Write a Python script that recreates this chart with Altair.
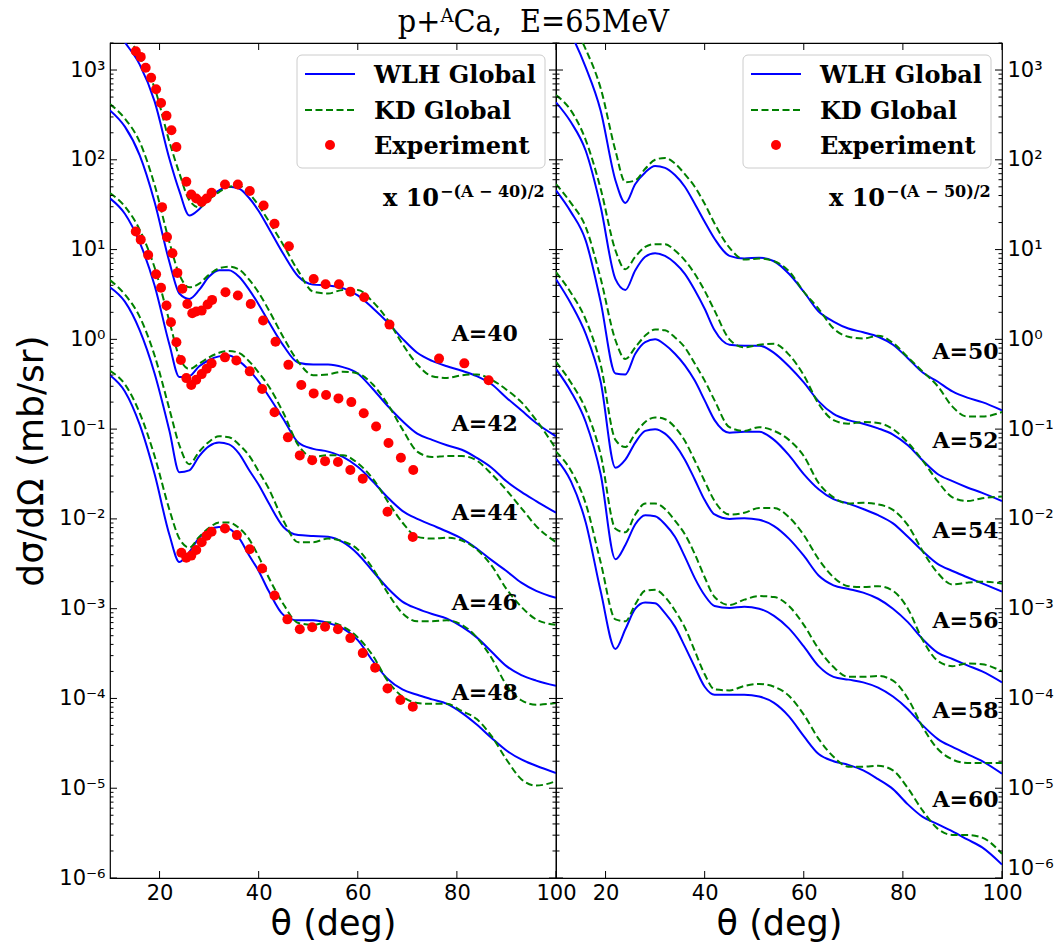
import math
import altair as alt
import pandas as pd

# ---------------- data ----------------
THETA = [10, 13, 16, 19, 22, 24, 26, 28, 30, 32, 34, 36, 38, 40, 42, 45, 48, 51, 54,
         57, 60, 63, 66, 69, 72, 75, 78, 81, 84, 87, 90, 93, 96, 100]

# left panel (scaled by 10^-(A-40)/2)
WLH_40 = [3.55e3, 2.04e3, 1.15e3, 447, 102, 44.7, 24.0, 28.2, 37.2, 45.7, 50.1, 47.9, 38.0, 26.9, 17.4,
          8.91, 5.01, 4.07, 3.98, 3.72, 3.09, 2.24, 1.55, 1.02, 0.708, 0.575, 0.501, 0.447, 0.389, 0.316,
          0.224, 0.162, 0.117, 0.0832]
KD_40 = [4.47e3, 2.63e3, 1.41e3, 631, 158, 70.8, 35.5, 29.5, 36.3, 43.7, 50.1, 51.3, 42.7, 30.9, 20.9,
         11.2, 5.75, 3.39, 3.24, 3.55, 3.55, 2.63, 1.66, 0.891, 0.525, 0.389, 0.372, 0.398, 0.407, 0.355,
         0.275, 0.200, 0.126, 0.0603]
WLH_42 = [355, 234, 112, 33.9, 7.24, 3.24, 2.82, 3.55, 5.01, 5.89, 5.89, 5.01, 3.63, 2.45, 1.58,
          0.851, 0.550, 0.525, 0.525, 0.490, 0.417, 0.282, 0.182, 0.123, 0.0891, 0.0759, 0.0661, 0.0589,
          0.0479, 0.0372, 0.0263, 0.0200, 0.0158, 0.0117]
KD_42 = [417, 288, 158, 52.5, 12.0, 5.25, 3.80, 4.17, 5.25, 6.17, 6.46, 6.03, 4.68, 3.31, 2.14,
         1.05, 0.562, 0.398, 0.407, 0.437, 0.417, 0.316, 0.191, 0.100, 0.0562, 0.0490, 0.0501, 0.0501,
         0.0447, 0.0316, 0.0209, 0.0132, 0.00832, 0.00550]
WLH_44 = [37.2, 25.1, 12.0, 3.98, 0.871, 0.380, 0.389, 0.501, 0.589, 0.646, 0.661, 0.575, 0.457, 0.339,
          0.234, 0.129, 0.0708, 0.0603, 0.0562, 0.0490, 0.0380, 0.0263, 0.0174, 0.0123, 0.0100, 0.00851,
          0.00724, 0.00603, 0.00468, 0.00347, 0.00263, 0.00195, 0.00158, 0.00132]
KD_44 = [42.7, 30.2, 16.6, 6.31, 1.58, 0.631, 0.468, 0.537, 0.631, 0.708, 0.741, 0.708, 0.575, 0.427,
         0.302, 0.151, 0.0661, 0.0490, 0.0513, 0.0513, 0.0417, 0.0282, 0.0158, 0.00912, 0.00631, 0.00603,
         0.00617, 0.00575, 0.00457, 0.00302, 0.00166, 0.00105, 7.59e-4, 6.61e-4]
WLH_46 = [3.80, 2.63, 1.26, 0.417, 0.0955, 0.0331, 0.0347, 0.0501, 0.0646, 0.0708, 0.0676, 0.0537,
          0.0355, 0.0240, 0.0151, 0.00813, 0.00661, 0.00646, 0.00631, 0.00550, 0.00407, 0.00263, 0.00170,
          0.00120, 0.00100, 8.71e-4, 7.76e-4, 6.31e-4, 4.79e-4, 3.31e-4, 2.29e-4, 1.82e-4, 1.58e-4, 1.38e-4]
KD_46 = [4.57, 3.16, 1.78, 0.661, 0.166, 0.0661, 0.0407, 0.0562, 0.0724, 0.0832, 0.0813, 0.0676, 0.0513,
         0.0339, 0.0219, 0.00955, 0.00550, 0.00550, 0.00603, 0.00562, 0.00457, 0.00282, 0.00151, 8.91e-4,
         7.24e-4, 7.24e-4, 7.41e-4, 6.61e-4, 4.79e-4, 2.82e-4, 1.41e-4, 9.55e-5, 8.51e-5, 8.91e-5]
WLH_48 = [0.398, 0.263, 0.112, 0.0316, 0.00661, 0.00331, 0.00427, 0.00617, 0.00759, 0.00813, 0.00776,
          0.00617, 0.00398, 0.00263, 0.00158, 8.51e-4, 7.41e-4, 7.41e-4, 6.92e-4, 6.03e-4, 4.47e-4,
          2.63e-4, 1.66e-4, 1.26e-4, 1.10e-4, 9.77e-5, 8.71e-5, 6.92e-5, 5.13e-5, 3.63e-5, 2.63e-5,
          2.09e-5, 1.78e-5, 1.48e-5]
KD_48 = [0.447, 0.316, 0.151, 0.0501, 0.0126, 0.00603, 0.00479, 0.00631, 0.00794, 0.00912, 0.00912,
         0.00794, 0.00603, 0.00380, 0.00224, 0.00112, 6.92e-4, 6.61e-4, 7.08e-4, 6.31e-4, 4.79e-4,
         3.02e-4, 1.58e-4, 1.05e-4, 8.91e-5, 8.71e-5, 8.71e-5, 7.24e-5, 5.89e-5, 3.80e-5, 2.09e-5,
         1.26e-5, 1.07e-5, 1.20e-5]

# right panel (scaled by 10^-(A-50)/2)
WLH_50 = [4.47e3, 2.51e3, 1.07e3, 355, 58.9, 33.1, 53.7, 72.4, 85.1, 81.3, 67.6, 50.1, 32.4, 20.4, 13.2,
          8.51, 7.94, 8.13, 7.41, 5.37, 3.39, 2.04, 1.58, 1.32, 1.20, 1.07, 0.871, 0.617, 0.427, 0.339,
          0.263, 0.224, 0.200, 0.162]
KD_50 = [6.31e3, 3.55e3, 1.70e3, 631, 126, 56.2, 58.9, 79.4, 100, 105, 91.2, 69.2, 50.1, 32.4, 19.5,
         10.5, 7.76, 7.94, 7.41, 5.75, 3.39, 2.19, 1.32, 1.07, 1.02, 1.10, 0.912, 0.631, 0.437, 0.302,
         0.178, 0.138, 0.138, 0.155]
WLH_52 = [437, 263, 126, 30.2, 4.68, 3.55, 5.89, 8.32, 9.12, 8.51, 7.08, 5.37, 3.55, 2.19, 1.26,
          0.871, 0.851, 0.851, 0.708, 0.501, 0.331, 0.204, 0.148, 0.126, 0.115, 0.102, 0.0871, 0.0661,
          0.0447, 0.0316, 0.0263, 0.0224, 0.0195, 0.0158]
KD_52 = [525, 355, 166, 47.9, 9.77, 6.03, 8.32, 10.7, 11.5, 11.5, 9.77, 7.59, 5.37, 3.47, 2.09,
         1.00, 0.813, 0.871, 0.891, 0.676, 0.398, 0.191, 0.126, 0.115, 0.120, 0.117, 0.100, 0.0708,
         0.0447, 0.0263, 0.0174, 0.0158, 0.0170, 0.0178]
WLH_54 = [45.7, 26.3, 12.6, 2.63, 0.417, 0.407, 0.692, 0.933, 1.00, 0.871, 0.692, 0.513, 0.347, 0.209,
          0.126, 0.0912, 0.0933, 0.0933, 0.0759, 0.0513, 0.0316, 0.0214, 0.0166, 0.0148, 0.0129, 0.0110,
          0.00891, 0.00631, 0.00437, 0.00316, 0.00263, 0.00224, 0.00191, 0.00155]
KD_54 = [53.7, 33.1, 17.8, 4.79, 0.977, 0.603, 0.813, 1.10, 1.29, 1.26, 1.05, 0.813, 0.537, 0.347,
         0.209, 0.105, 0.0955, 0.105, 0.0955, 0.0759, 0.0501, 0.0251, 0.0174, 0.0148, 0.0151, 0.0145,
         0.0126, 0.00851, 0.00437, 0.00251, 0.00186, 0.00195, 0.00200, 0.00191]
WLH_56 = [4.68, 2.51, 1.15, 0.339, 0.0372, 0.0457, 0.0708, 0.0955, 0.100, 0.0891, 0.0676, 0.0457,
          0.0275, 0.0162, 0.0112, 0.0100, 0.0102, 0.00977, 0.00832, 0.00603, 0.00389, 0.00234, 0.00182,
          0.00166, 0.00151, 0.00129, 0.00100, 7.08e-4, 4.57e-4, 3.24e-4, 2.75e-4, 2.34e-4, 2.00e-4, 1.51e-4]
KD_56 = [5.62, 3.31, 1.66, 0.525, 0.0759, 0.0631, 0.0891, 0.120, 0.135, 0.129, 0.105, 0.0741, 0.0447,
         0.0263, 0.0158, 0.0112, 0.0117, 0.0132, 0.0132, 0.0105, 0.00661, 0.00355, 0.00224, 0.00178,
         0.00174, 0.00178, 0.00158, 0.00100, 4.47e-4, 2.63e-4, 2.29e-4, 2.45e-4, 2.40e-4, 2.00e-4]
WLH_58 = [0.468, 0.263, 0.120, 0.0316, 0.00355, 0.00513, 0.00871, 0.0110, 0.0107, 0.00871, 0.00631,
          0.00380, 0.00219, 0.00141, 0.00107, 0.00102, 0.00105, 0.00100, 8.32e-4, 6.03e-4, 3.80e-4,
          2.29e-4, 1.74e-4, 1.62e-4, 1.51e-4, 1.32e-4, 1.05e-4, 7.59e-5, 5.01e-5, 3.55e-5, 2.88e-5,
          2.40e-5, 2.00e-5, 1.45e-5]
KD_58 = [0.562, 0.331, 0.166, 0.0525, 0.00776, 0.00708, 0.0112, 0.0148, 0.0148, 0.0129, 0.00955,
         0.00676, 0.00407, 0.00224, 0.00135, 0.00110, 0.00126, 0.00138, 0.00135, 0.00107, 6.61e-4,
         3.55e-4, 2.24e-4, 1.74e-4, 1.74e-4, 1.78e-4, 1.58e-4, 1.00e-4, 4.79e-5, 2.75e-5, 2.09e-5,
         1.91e-5, 1.91e-5, 1.91e-5]
WLH_60 = [0.0468, 0.0263, 0.00912, 0.00158, 3.55e-4, 5.89e-4, 0.00100, 0.00117, 0.00115, 8.91e-4,
          6.31e-4, 3.80e-4, 2.24e-4, 1.35e-4, 1.10e-4, 1.10e-4, 1.10e-4, 1.05e-4, 8.91e-5, 6.31e-5,
          3.80e-5, 2.40e-5, 2.00e-5, 1.82e-5, 1.58e-5, 1.26e-5, 9.77e-6, 6.61e-6, 4.79e-6, 3.98e-6,
          3.31e-6, 2.69e-6, 2.19e-6, 1.41e-6]
KD_60 = [0.0562, 0.0347, 0.0148, 0.00331, 7.59e-4, 7.24e-4, 0.00112, 0.00158, 0.00162, 0.00135,
         9.55e-4, 6.17e-4, 3.39e-4, 1.86e-4, 1.26e-4, 1.23e-4, 1.38e-4, 1.45e-4, 1.35e-4, 1.07e-4,
         6.61e-5, 3.55e-5, 2.24e-5, 1.74e-5, 1.74e-5, 1.78e-5, 1.58e-5, 1.00e-5, 5.62e-6, 3.55e-6,
         3.02e-6, 3.02e-6, 2.82e-6, 1.86e-6]

# experimental points (left panel)
EXP40_T = [15.2, 16.2, 17.2, 18.3, 19.3, 20.3, 21.4, 22.4, 23.4, 25.4, 26.4, 27.4, 28.5, 29.5, 30.5,
           33.2, 35.8, 38.2, 41.0, 43.2, 46.1, 51.1, 53.5, 56.2, 58.5, 61.3, 66.4, 76.4, 81.5, 86.4]
EXP40_V = [1620, 1400, 1060, 820, 610, 430, 310, 213, 139, 57, 41, 37, 34, 37, 43, 53, 53, 45, 31,
           19.4, 10.9, 4.7, 4.1, 4.1, 3.4, 2.95, 1.46, 0.61, 0.54, 0.35]
EXP42_T = [20.5, 21.5, 22.6, 23.6, 24.6, 25.6, 26.6, 27.4, 28.5, 29.7, 30.6, 33.3, 35.8, 38.4, 40.9,
           43.4, 46.0, 48.6, 51.1, 53.6, 56.1, 58.7, 61.2, 63.7, 66.2, 68.7, 71.2]
EXP42_V = [29.7, 13.8, 9.1, 5.5, 3.66, 2.48, 1.95, 2.04, 2.09, 2.44, 2.75, 3.35, 3.08, 2.48, 1.62,
           0.94, 0.52, 0.31, 0.25, 0.24, 0.22, 0.20, 0.15, 0.107, 0.070, 0.048, 0.035]
EXP44_T = [15.2, 16.2, 17.7, 19.3, 20.3, 21.4, 22.3, 23.4, 24.3, 25.4, 26.4, 27.4, 28.5, 29.5, 30.5,
           33.2, 35.5, 38.2, 40.7, 43.2, 45.9, 48.3, 50.8, 53.4, 56.0, 58.5, 61.0, 66.0, 71.1]
EXP44_V = [15.9, 12.9, 8.7, 5.3, 3.75, 2.38, 1.55, 0.93, 0.59, 0.37, 0.31, 0.355, 0.41, 0.47, 0.54,
           0.63, 0.58, 0.44, 0.28, 0.154, 0.081, 0.051, 0.045, 0.044, 0.043, 0.035, 0.028, 0.012, 0.0063]
EXP48_T = [24.4, 25.4, 26.4, 27.4, 28.5, 29.5, 30.5, 33.2, 35.6, 38.2, 40.7, 43.2, 45.8, 48.3, 50.8,
           53.4, 56.0, 58.5, 61.0, 63.5, 66.0, 68.6, 71.1]
EXP48_V = [0.0042, 0.0037, 0.0039, 0.0045, 0.0055, 0.0065, 0.0072, 0.0078, 0.0066, 0.0046, 0.0028,
           0.0014, 7.6e-4, 5.9e-4, 6.2e-4, 6.3e-4, 5.9e-4, 4.7e-4, 3.2e-4, 2.2e-4, 1.29e-4, 9.6e-5, 8.1e-5]

LEFT_LABELS = ["A=40", "A=42", "A=44", "A=46", "A=48"]
RIGHT_LABELS = ["A=50", "A=52", "A=54", "A=56", "A=58", "A=60"]
LEGEND_LABELS = ["WLH Global", "KD Global", "Experiment"]
X_TICKS = [20, 40, 60, 80, 100]

# ---------------- styling / positions ----------------
BLUE, GREEN, RED = "#0000ff", "#008000", "#ff0000"
SERIF = "DejaVu Serif"
SANS = "DejaVu Sans"
PW, PH = 446, 835
LEFT_LABEL_POS = dict(theta=92.3, y=[0.97, 0.096, 0.0096, 9.6e-4, 9.6e-5])
RIGHT_LABEL_POS = dict(theta=99.3, y=[0.61, 0.061, 0.0061, 6.1e-4, 6.1e-5, 6.1e-6])

SUP = {3: "³", 2: "²", 1: "¹", 0: "⁰", -1: "⁻¹", -2: "⁻²", -3: "⁻³", -4: "⁻⁴", -5: "⁻⁵", -6: "⁻⁶"}
E = "round(log(datum.value)/LN10)"
label_expr = f"abs(log(datum.value)/LN10 - {E}) > 0.001 ? '' : "
for k, s in SUP.items():
    label_expr += f"{E} == {k} ? '10{s}' : "
label_expr += "''"
y_ticks = []
for k in range(-6, 4):
    for m in range(1, 10):
        v = float(f"{m}e{k}")
        if v <= 2000:
            y_ticks.append(v)
Y_MAJOR = [v for v in y_ticks if abs(math.log10(v) - round(math.log10(v))) < 1e-9]
Y_MINOR = [v for v in y_ticks if v not in Y_MAJOR]

XS = alt.Scale(domain=[10, 100], nice=False, zero=False)
YS = alt.Scale(type="log", domain=[1e-6, 2e3], nice=False)

X_AXIS = alt.Axis(values=X_TICKS, title="θ (deg)", titleFont=SANS, titleFontSize=35,
                  titleFontWeight="normal", titleColor="black", labelFont=SANS, labelFontSize=21,
                  labelColor="black", labelFlush=False, ticks=False, domain=False,
                  grid=False, labelPadding=4, titlePadding=3)


def y_axis(orient, title):
    kw = dict(orient=orient, values=y_ticks, labelExpr=label_expr, ticks=False,
              labelColor="black", labelFont=SANS, labelFontSize=21,
              labelOverlap=False, labelPadding=5, domain=False, grid=False)
    if title:
        kw.update(title=title, titleFont=SANS, titleFontSize=36, titleFontWeight="normal",
                  titleColor="black", titlePadding=8)
    else:
        kw.update(title=None, labelFlush=True)
    return alt.Axis(**kw)


def panel(wlh, kd, exps, labels, label_pos, mult, yax):
    rows = []
    for model, dd in (("WLH", wlh), ("KD", kd)):
        for a, vals in dd.items():
            for t, v in zip(THETA, vals):
                rows.append({"theta": t, "xs": v, "A": a, "model": model})
    df = pd.DataFrame(rows)
    x = alt.X("theta:Q", scale=XS, axis=X_AXIS)
    y = alt.Y("xs:Q", scale=YS, axis=yax)
    base = alt.Chart(df)
    wlh_l = base.transform_filter(alt.datum.model == "WLH").mark_line(
        color=BLUE, strokeWidth=2, clip=True, interpolate="monotone").encode(x=x, y=y, detail="A:N")
    kd_l = base.transform_filter(alt.datum.model == "KD").mark_line(
        color=GREEN, strokeWidth=2, strokeDash=[7, 3.5], clip=True, interpolate="monotone").encode(
        x=x, y=y, detail="A:N")
    layers = [wlh_l, kd_l]
    if exps:
        er = []
        for a, (ts, vs) in exps.items():
            for t, v in zip(ts, vs):
                er.append({"theta": t, "xs": v, "A": a})
        layers.append(alt.Chart(pd.DataFrame(er)).mark_circle(color=RED, size=100, opacity=1, clip=True)
                      .encode(x=x, y=y))
    ldf = pd.DataFrame({"label": labels, "theta": [label_pos["theta"]] * len(labels), "xs": label_pos["y"]})
    layers.append(alt.Chart(ldf).mark_text(align="right", baseline="alphabetic", font=SERIF,
                                           fontWeight="bold", fontSize=22, color="black")
                  .encode(x=x, y=y, text="label:N"))
    # inward tick marks (matplotlib style) on all four sides
    for vals, ln in ((Y_MAJOR, 7), (Y_MINOR, 3.5)):
        tdf = alt.Chart(pd.DataFrame({"xs": vals}))
        layers.append(tdf.mark_rule(color="black", strokeWidth=1).encode(
            y=y, x=alt.value(0), x2=alt.value(ln)))
        layers.append(tdf.mark_rule(color="black", strokeWidth=1).encode(
            y=y, x=alt.value(PW - ln), x2=alt.value(PW)))
    xdf = alt.Chart(pd.DataFrame({"theta": X_TICKS}))
    layers.append(xdf.mark_rule(color="black", strokeWidth=1).encode(
        x=x, y=alt.value(PH - 7), y2=alt.value(PH)))
    layers.append(xdf.mark_rule(color="black", strokeWidth=1).encode(
        x=x, y=alt.value(0), y2=alt.value(7)))
    # legend
    one = alt.Chart(pd.DataFrame({"d": [0]}))
    layers.append(one.mark_rect(fill="white", fillOpacity=0.8, stroke="#cccccc", strokeWidth=1,
                                cornerRadius=5).encode(x=alt.value(187), x2=alt.value(435),
                                                       y=alt.value(12), y2=alt.value(125)))
    layers.append(one.mark_rule(color=BLUE, strokeWidth=2).encode(
        x=alt.value(195), x2=alt.value(245), y=alt.value(31)))
    layers.append(one.mark_rule(color=GREEN, strokeWidth=2, strokeDash=[7, 3.5]).encode(
        x=alt.value(195), x2=alt.value(245), y=alt.value(67)))
    layers.append(one.mark_circle(color=RED, size=100, opacity=1).encode(
        x=alt.value(220), y=alt.value(102)))
    for txt, yy in zip(LEGEND_LABELS, (40, 76, 111)):
        layers.append(one.mark_text(text=txt, align="left", baseline="alphabetic", font=SERIF,
                                    fontWeight="bold", fontSize=24, color="black")
                      .encode(x=alt.value(264), y=alt.value(yy)))
    layers.append(one.mark_text(text="x 10", align="left", baseline="alphabetic", font=SERIF,
                                fontWeight="bold", fontSize=24, color="black")
                  .encode(x=alt.value(273), y=alt.value(163)))
    layers.append(one.mark_text(text=mult, align="left", baseline="alphabetic", font=SERIF,
                                fontWeight="bold", fontSize=16, color="black")
                  .encode(x=alt.value(330), y=alt.value(154)))
    return alt.layer(*layers).properties(width=PW, height=PH)


left = panel({40: WLH_40, 42: WLH_42, 44: WLH_44, 46: WLH_46, 48: WLH_48},
             {40: KD_40, 42: KD_42, 44: KD_44, 46: KD_46, 48: KD_48},
             {40: (EXP40_T, EXP40_V), 42: (EXP42_T, EXP42_V), 44: (EXP44_T, EXP44_V),
              48: (EXP48_T, EXP48_V)},
             LEFT_LABELS, LEFT_LABEL_POS, "−(A − 40)/2", y_axis("left", "dσ/dΩ (mb/sr)"))
right = panel({50: WLH_50, 52: WLH_52, 54: WLH_54, 56: WLH_56, 58: WLH_58, 60: WLH_60},
              {50: KD_50, 52: KD_52, 54: KD_54, 56: KD_56, 58: KD_58, 60: KD_60},
              None, RIGHT_LABELS, RIGHT_LABEL_POS, "−(A − 50)/2", y_axis("right", None))

chart = alt.hconcat(left, right, spacing=0, bounds="flush").properties(
    title=alt.TitleParams("p+ᴬCa,\u00a0\u00a0E=65MeV", font="DejaVu Serif Condensed, DejaVu Serif",
                          fontSize=32, fontWeight="normal", color="black", anchor="middle",
                          frame="bounds", offset=-8),
    padding={"left": 13, "top": 6, "right": 4, "bottom": 0},
    background="white",
).configure_view(stroke="black", strokeWidth=1.2)

chart.save("out.html", embed_options={"renderer": "svg", "actions": False})
